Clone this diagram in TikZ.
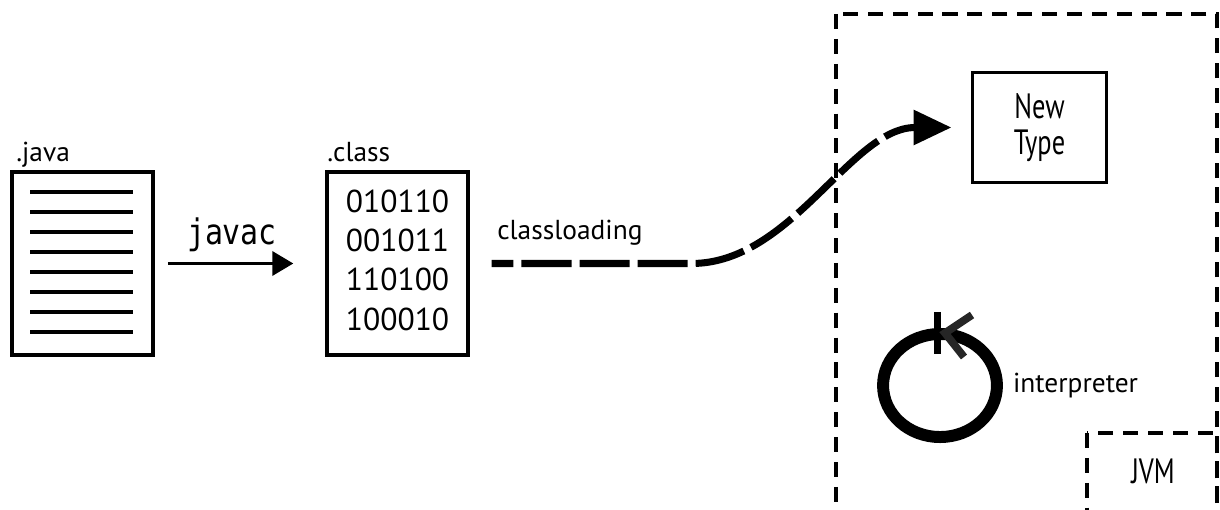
\documentclass[tikz,border=0pt]{standalone}
\usepackage{fontspec}
\setmainfont{PT Sans}
\newfontfamily\narrowfont[FakeStretch=0.75]{PT Sans}
\newfontfamily\codefont[FakeStretch=0.85]{DejaVu Sans Mono}
\usetikzlibrary{arrows.meta, positioning, shapes.geometric}
\tikzset{
  filebox/.style={draw, line width=2.5pt, minimum width=100pt, minimum height=130pt, inner sep=0},
  lbl/.style={inner sep=0, font=\fontsize{19.5pt}{23pt}\selectfont},
  frame/.style={line width=2.8pt, dash pattern=on 10.7pt off 7pt},
  bigtext/.style={inner sep=0, font=\narrowfont\fontsize{25pt}{25.6pt}\selectfont},
}

\begin{document}
\begin{tikzpicture}[x=0.025cm, y=-0.025cm]
\useasboundingbox (0,0) rectangle (1220,510);

% source file
\node[filebox] (javabox) at (82.5,263.5) {};
\node[lbl, anchor=base west] (javalbl) at (16,162) {.java};
\foreach \i in {0,...,7}
  \draw[line width=2.8pt] (30,{192+20*\i}) -- (133,{192+20*\i});

% class file
\node[filebox] (classbox) at (397.5,263.5) {};
\node[lbl, anchor=base west] (classlbl) at (327,162) {.class};
\foreach \bits [count=\i] in {010110,001011,110100,100010}
  \node[inner sep=0, anchor=base, font=\fontsize{22.5pt}{27pt}\selectfont] (bits\i) at (397.5,{213+39*(\i-1)}) {\bits};

% compile step
\draw[line width=2.8pt, -{Triangle[length=15pt,width=17pt]}, shorten <=9.5pt, shorten >=22.8pt]
  (javabox) -- node[above=7pt, xshift=-5.7pt, inner sep=0, font=\codefont\fontsize{25pt}{28pt}\selectfont] (javaclbl) {javac} (classbox);

% class loading
\node[lbl, anchor=base west] (loadlbl) at (497,240) {classloading};
\node[draw, line width=2.2pt, minimum width=95pt, minimum height=78pt, align=center, bigtext] (newtype) at (1039.5,127.5) {New\\Type};
\draw[line width=5pt, dash pattern=on 35.6pt off 5.7pt, dash phase=20pt, -{Triangle[length=27pt,width=24pt]}, shorten <=15.6pt, shorten >=14pt]
  (classbox.east) -- ++(222,0) .. controls +(100,0) and +(-120,0) .. (newtype.west);

% JVM
\draw[frame] (836,14) rectangle (1217,540);
\draw[frame] (1087,433) rectangle (1217,540);
\node[bigtext, anchor=base] (jvmlbl) at (1153,483) {JVM};

% interpreter
\node[draw, ellipse, line width=8.5pt, inner sep=0, minimum width=81pt, minimum height=73.3pt] (loop) at (940,385.5) {};
\draw[line width=5pt] (937,312) -- (937,354);
\draw[line width=5.5pt, black!85] (972,315) -- (945,333) -- (964,357);
\node[lbl, right=7pt of loop] (interp) {interpreter};
\end{tikzpicture}
\end{document}
